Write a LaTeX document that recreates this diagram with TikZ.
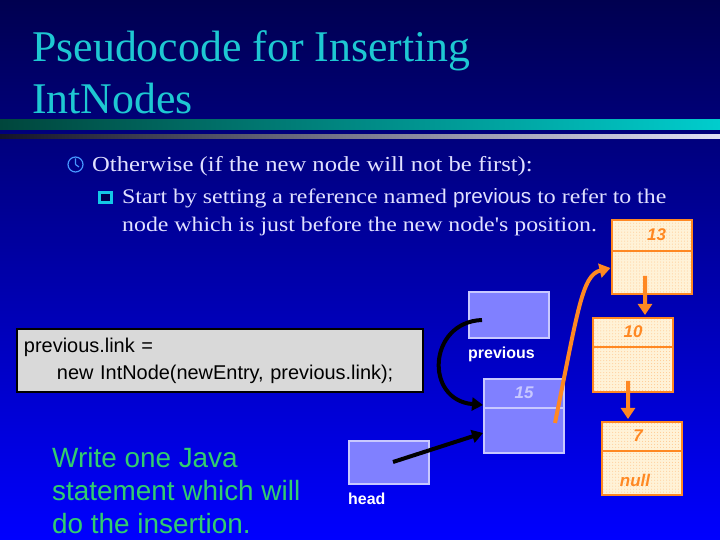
\documentclass[tikz,border=0pt]{standalone}
\usepackage{fontspec}
\setmainfont{Liberation Serif}
\setsansfont{Liberation Sans}
\newfontfamily\bulletfont[FakeStretch=1.15]{Liberation Serif}
\newfontfamily\bulletsans[FakeStretch=1.0]{Liberation Sans}
\usetikzlibrary{arrows.meta,positioning,calc,patterns}
\definecolor{navy}{RGB}{0,0,80}
\definecolor{midblue}{RGB}{0,0,200}
\definecolor{brightblue}{RGB}{0,0,255}
\definecolor{titlecyan}{RGB}{30,200,210}
\definecolor{bardark}{RGB}{0,70,60}
\definecolor{barteal}{RGB}{0,205,205}
\definecolor{bargrey}{RGB}{20,20,40}
\definecolor{barlav}{RGB}{225,225,245}
\definecolor{lav}{RGB}{225,225,255}
\definecolor{ptrblue}{RGB}{128,128,255}
\definecolor{ptredge}{RGB}{200,200,255}
\definecolor{lorange}{RGB}{255,136,34}
\definecolor{cream}{RGB}{255,242,215}
\definecolor{codegrey}{RGB}{217,217,217}
\definecolor{hintgreen}{RGB}{50,205,110}
\definecolor{clockblue}{RGB}{70,150,255}
\definecolor{sqcyan}{RGB}{20,200,230}
\begin{document}
\begin{tikzpicture}[x=1bp,y=1bp,font=\sffamily]
\tikzset{lnode/.style={draw=lorange,line width=2bp,preaction={fill=cream},pattern=dots,pattern color=lorange!40!cream,minimum width=80bp,minimum height=74bp,inner sep=0pt},
  pnode/.style={draw=ptredge,line width=2bp,fill=ptrblue,minimum width=80bp,inner sep=0pt},
  num/.style={font=\sffamily\bfseries\itshape\fontsize{17}{19}\selectfont,text=lorange},
  lbl/.style={font=\sffamily\bfseries\fontsize{16}{18}\selectfont,text=white,inner sep=0pt},
  bul/.style={anchor=base west,inner sep=0pt,text=lav},
  optr/.style={-{Triangle[length=11bp,width=14bp]},lorange,line width=4bp},
  bptr/.style={-{Triangle[length=11bp,width=13bp]},black,line width=4bp}}
% background and bars
\shade[top color=navy,middle color=midblue,bottom color=brightblue] (0,0) rectangle (720,540);
\useasboundingbox (0,0) rectangle (720,540);
\shade[left color=bardark,right color=barteal] (0,410) rectangle (720,420);
\shade[left color=bargrey,right color=barlav] (0,401) rectangle (720,405);
% title
\node[anchor=base west,inner sep=0pt,text=titlecyan,font=\rmfamily\fontsize{44}{52}\selectfont] (title1) at (32,478) {Pseudocode for Inserting};
\node[anchor=base west,inner sep=0pt,text=titlecyan,font=\rmfamily\fontsize{44}{52}\selectfont] (title2) at (32,426) {IntNodes};
% bullets
\draw[clockblue,line width=1.2bp] (75.5,375.5) circle (7.5);
\draw[clockblue,line width=1.2bp] (75.5,375.5) -- (75.5,381.5) (75.5,375.5) -- (79,373);
\node[bul,font=\bulletfont\fontsize{21.5}{26}\selectfont] (b1) at (92,368) {Otherwise (if the new node will not be first):};
\draw[sqcyan,line width=3bp,fill=navy] (99,337.5) rectangle (111,347.5);
\node[bul,font=\bulletfont\fontsize{20.8}{24}\selectfont] (b2) at (122,336) {Start by setting a reference named {\bulletsans previous} to refer to the};
\node[bul,font=\bulletfont\fontsize{20.8}{24}\selectfont] (b3) at (122,308) {node which is just before the new node's position.};
% list nodes
\node[lnode] (n13) at (651.5,283) {};
\draw[lorange,line width=2bp] ([yshift=-32bp]n13.north west) -- ([yshift=-32bp]n13.north east);
\node[num] at ([xshift=5bp,yshift=-16bp]n13.north) {13};
\node[lnode] (n10) at (633,185) {};
\draw[lorange,line width=2bp] ([yshift=-30bp]n10.north west) -- ([yshift=-30bp]n10.north east);
\node[num] at ([yshift=-15bp]n10.north) {10};
\node[lnode,minimum height=73bp] (n7) at (642,81.5) {};
\draw[lorange,line width=2bp] ([yshift=-30bp]n7.north west) -- ([yshift=-30bp]n7.north east);
\node[num] at ([xshift=-4bp,yshift=-15bp]n7.north) {7};
\node[num] at ([xshift=-7bp,yshift=-22bp]n7.center) {null};
\node[pnode,minimum height=74bp] (n15) at (524,124) {};
\draw[ptredge,line width=2bp] ([yshift=-30bp]n15.north west) -- ([yshift=-30bp]n15.north east);
\node[num,text=ptredge] at ([yshift=-15bp]n15.north) {15};
% reference variables
\node[pnode,minimum height=46bp] (prevbox) at (509,225) {};
\node[lbl,below=8bp of prevbox.south west,anchor=north west] (prevlbl) {previous};
\node[pnode,minimum height=43bp] (headbox) at (389,77.5) {};
\node[lbl,below=8bp of headbox.south west,anchor=north west] (headlbl) {head};
% code and question
\node[draw=black,line width=2bp,fill=codegrey,minimum width=406bp,minimum height=63bp,text width=392bp,inner sep=7bp,align=left,font=\sffamily\fontsize{20}{27}\selectfont] (code) at (220,179.5) {previous.link =\\\hspace*{33bp}new IntNode(newEntry, previous.link);};
\node[anchor=north west,inner sep=0pt,align=left,text=hintgreen,font=\sffamily\fontsize{28}{33}\selectfont] (hint) at (52,93) {Write one Java\\statement which will\\do the insertion.};
% pointers
\coordinate (prevptr) at (482,220);
\coordinate (headptr) at (393,78);
\coordinate (n15ptr) at (555,117);
\draw[bptr] (prevptr) .. controls (428,218) and (424,140) .. ([yshift=11bp]n15.west);
\draw[bptr] (headptr) -- ([yshift=-17bp]n15.west);
\draw[optr] (n15ptr) .. controls (578,230) and (582,265) .. ([yshift=-11bp]n13.west);
\draw[optr] ([xshift=-6.5bp,yshift=19bp]n13.south) -- ([xshift=12bp,yshift=2bp]n10.north);
\draw[optr] ([xshift=-5bp,yshift=12bp]n10.south) -- ([xshift=-14bp,yshift=2bp]n7.north);
\end{tikzpicture}
\end{document}
